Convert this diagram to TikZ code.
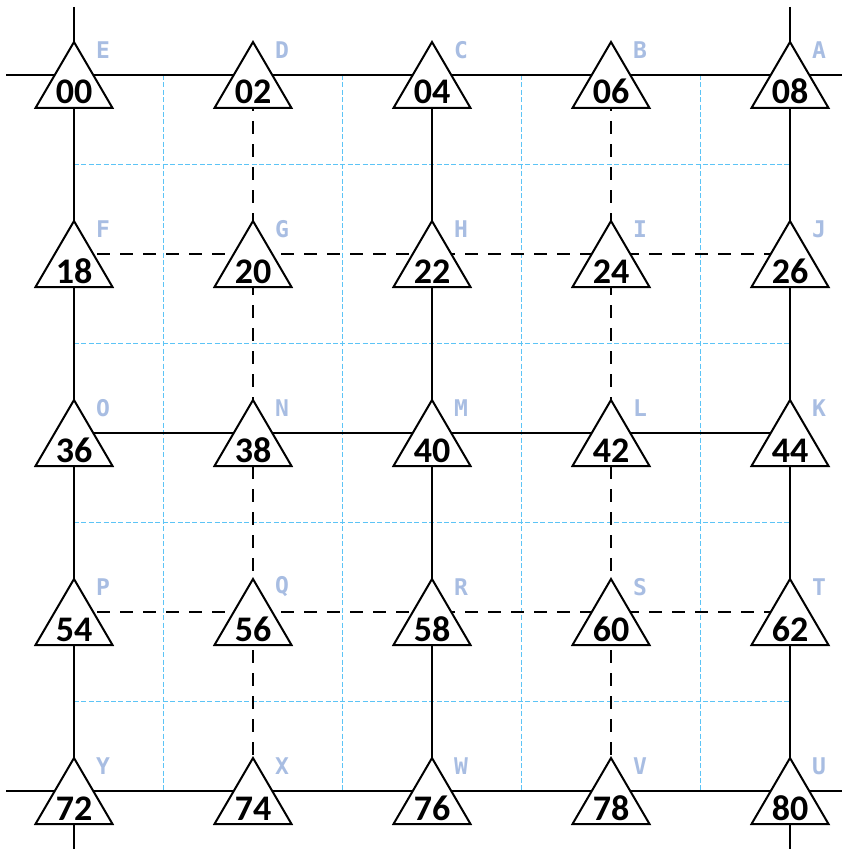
\documentclass[tikz,border=0pt]{standalone}
\usepackage{fontspec}
\usepackage{tikz}
\usetikzlibrary{calc,backgrounds}
\newfontfamily\numfont{Carlito}
\newfontfamily\tagfont{DejaVu Sans Mono}
\definecolor{guide}{RGB}{92,196,246}
\definecolor{tagc}{RGB}{168,189,226}
\newcommand{\station}[4]{%
  \node[stn] (s#1) at (#2,#3) {#1};
  \node[tag] (t#4) at ([shift={(29,-25)}]s#1.center) {#4};}

\begin{document}
\begin{tikzpicture}[
  x=0.5pt,y=-0.5pt,
  stn/.style={minimum width=42pt,minimum height=36pt,inner sep=0pt,
              text height=29pt,text depth=0pt,
              font=\numfont\bfseries\fontsize{18}{19}\selectfont,
              path picture={\filldraw[fill=white,draw=black,line width=1pt]
                ([yshift=16.5pt]path picture bounding box.center)
                -- ++(19.25pt,-33pt) -- ++(-38.5pt,0pt) -- cycle;}},
  tag/.style={inner sep=0pt,text=tagc,
              font=\tagfont\bfseries\fontsize{11.5}{12}\selectfont},
  wire/.style={line width=1.2pt,black},
  dwire/.style={line width=1pt,black,dash pattern=on 6.5pt off 5pt},
  guideline/.style={line width=0.75pt,guide,dash pattern=on 2.5pt off 1.2pt},
]
\useasboundingbox (0,0) rectangle (848,856);

\station{00}{74}{75}{E}
\station{02}{253}{75}{D}
\station{04}{432}{75}{C}
\station{06}{611}{75}{B}
\station{08}{790}{75}{A}
\station{18}{74}{254}{F}
\station{20}{253}{254}{G}
\station{22}{432}{254}{H}
\station{24}{611}{254}{I}
\station{26}{790}{254}{J}
\station{36}{74}{433}{O}
\station{38}{253}{433}{N}
\station{40}{432}{433}{M}
\station{42}{611}{433}{L}
\station{44}{790}{433}{K}
\station{54}{74}{612}{P}
\station{56}{253}{612}{Q}
\station{58}{432}{612}{R}
\station{60}{611}{612}{S}
\station{62}{790}{612}{T}
\station{72}{74}{791}{Y}
\station{74}{253}{791}{X}
\station{76}{432}{791}{W}
\station{78}{611}{791}{V}
\station{80}{790}{791}{U}

% free ends of the outer lines
\coordinate (w0) at (6,75);
\coordinate (e0) at (842,75);
\coordinate (w4) at (6,791);
\coordinate (e4) at (842,791);
\coordinate (n0) at (74,7);
\coordinate (so0) at (74,849);
\coordinate (n4) at (790,7);
\coordinate (so4) at (790,849);

\begin{scope}[on background layer]
% light guide grid
\draw[guideline] ($(s00)!0.5!(s02)$) -- ($(s72)!0.5!(s74)$);
\draw[guideline] ($(s02)!0.5!(s04)$) -- ($(s74)!0.5!(s76)$);
\draw[guideline] ($(s04)!0.5!(s06)$) -- ($(s76)!0.5!(s78)$);
\draw[guideline] ($(s06)!0.5!(s08)$) -- ($(s78)!0.5!(s80)$);
\draw[guideline] ($(s00)!0.5!(s18)$) -- ($(s08)!0.5!(s26)$);
\draw[guideline] ($(s18)!0.5!(s36)$) -- ($(s26)!0.5!(s44)$);
\draw[guideline] ($(s36)!0.5!(s54)$) -- ($(s44)!0.5!(s62)$);
\draw[guideline] ($(s54)!0.5!(s72)$) -- ($(s62)!0.5!(s80)$);

% rows
\draw[wire] (w0) -- (s00.center) -- (s02.center) -- (s04.center) -- (s06.center) -- (s08.center) -- (e0);
\draw[dwire] (s18.center) -- (s20.center) -- (s22.center) -- (s24.center) -- (s26.center);
\draw[wire] (s36.center) -- (s38.center) -- (s40.center) -- (s42.center) -- (s44.center);
\draw[dwire] (s54.center) -- (s56.center) -- (s58.center) -- (s60.center) -- (s62.center);
\draw[wire] (w4) -- (s72.center) -- (s74.center) -- (s76.center) -- (s78.center) -- (s80.center) -- (e4);

% columns
\draw[wire] (n0) -- (s00.center) -- (s18.center) -- (s36.center) -- (s54.center) -- (s72.center) -- (so0);
\draw[dwire] (s02.center) -- (s20.center) -- (s38.center) -- (s56.center) -- (s74.center);
\draw[wire] (s04.center) -- (s22.center) -- (s40.center) -- (s58.center) -- (s76.center);
\draw[dwire] (s06.center) -- (s24.center) -- (s42.center) -- (s60.center) -- (s78.center);
\draw[wire] (n4) -- (s08.center) -- (s26.center) -- (s44.center) -- (s62.center) -- (s80.center) -- (so4);
\end{scope}
\end{tikzpicture}
\end{document}
